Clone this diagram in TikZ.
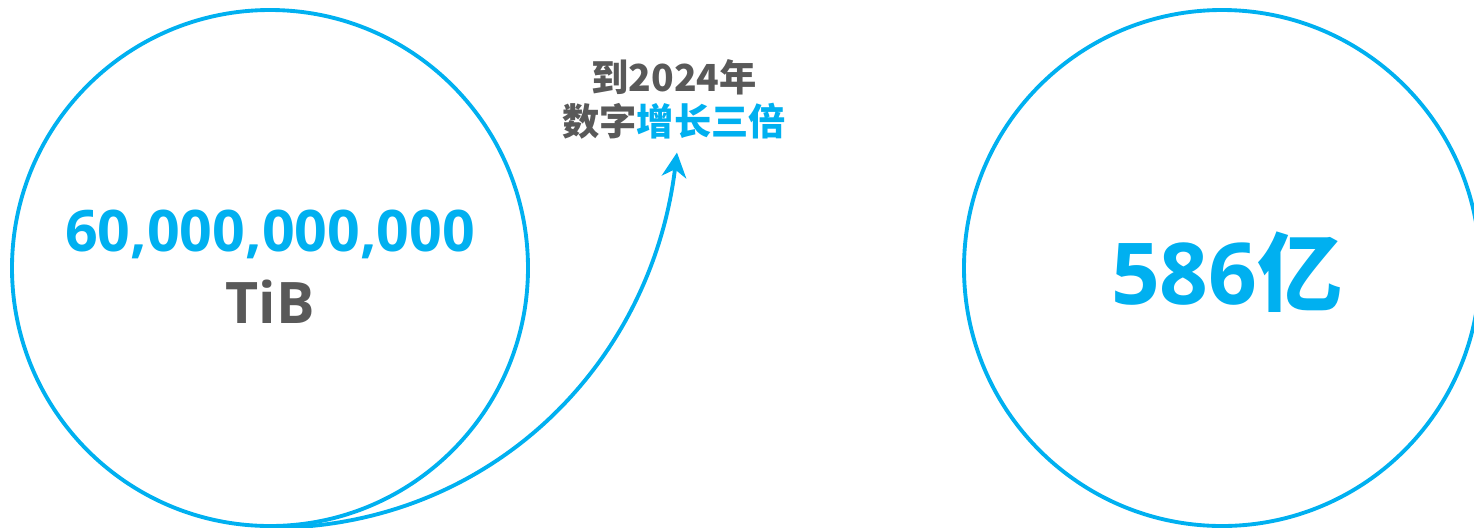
\documentclass[tikz,border=0pt]{standalone}
\usepackage{fontspec}
\setmainfont{Open Sans}
\newfontfamily\cjk{Noto Sans CJK SC}
\usetikzlibrary{arrows.meta,positioning}

\begin{document}
\begin{tikzpicture}
[line cap=round,
% Styles
ring/.style={circle,draw=datacolor,line width=1.1pt,minimum size=5.16cm,inner sep=0pt},
big number/.style={font=\fontsize{16.3}{18}\selectfont\bfseries,text=datacolor,inner sep=0pt},
unit text/.style={font=\fontsize{16.3}{18}\selectfont\bfseries,text=labelcolor,inner sep=0pt},
growth text/.style={font=\cjk\fontsize{10.6}{12.5}\selectfont\bfseries,text=labelcolor,align=center,inner sep=0pt},
growth arrow/.style={draw=datacolor,line width=1.1pt,-{Stealth[length=7pt,width=7pt,inset=2.2pt]}}]
% Colors
\definecolor{datacolor}{HTML}{00B0F0}
\definecolor{labelcolor}{HTML}{595959}
% The graphic
\useasboundingbox (0,0) rectangle (14.74,5.27);
\node[ring] (total) at (2.70,2.59) {};
\node[big number] (bytes) at (2.70,2.93) {60,000,000,000};
\node[unit text,below=0.2cm of bytes] (unit) {TiB};
\node[ring] (count) at (12.22,2.59) {};
\node[font=\fontsize{24.3}{28}\selectfont\bfseries,text=datacolor,inner sep=0pt]
  (people) at (12.27,2.55) {586{\cjk\bfseries 亿}};
\node[growth text,inner sep=2pt] (growth) at (6.74,4.28)
  {{\cjk 到}2024{\cjk 年}\\数字\textcolor{datacolor}{增长三倍}};
\draw[growth arrow] (total.south) to[out=0,in=-97] ([xshift=0.03cm,yshift=-0.06cm]growth.south);
\end{tikzpicture}
\end{document}
